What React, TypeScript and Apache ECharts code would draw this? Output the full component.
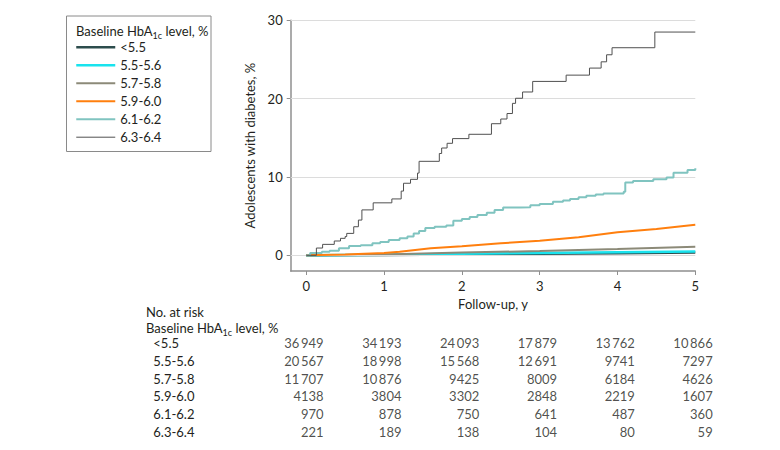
import React, { useEffect, useRef } from 'react';
import * as echarts from 'echarts';

const groups = ['<5.5', '5.5-5.6', '5.7-5.8', '5.9-6.0', '6.1-6.2', '6.3-6.4'];
const groupColors = ['#2d4d4d', '#19e3ee', '#8c8a78', '#ff7f0e', '#80c4c0', '#505050'];
const groupWidths = [2.5, 2.5, 2, 2, 2, 1];
const yearTicks = [0, 1, 2, 3, 4, 5];
const yTicks = [0, 10, 20, 30];
const gridValues = [0, 10, 20, 30];

// cumulative incidence (%): [year, value]
const curveLt55 = [[0, 0], [1, 0.05], [2, 0.12], [3, 0.2], [4, 0.28], [5, 0.35]];
const curve5556 = [[0, 0], [1, 0.08], [2, 0.2], [3, 0.3], [4, 0.4], [5, 0.5]];
const curve5758 = [[0, 0], [1, 0.12], [2, 0.35], [3, 0.55], [4, 0.8], [5, 1.1]];
const curve5960 = [[0, 0], [0.5, 0.12], [1, 0.3], [1.2, 0.45], [1.6, 0.9], [2, 1.15], [2.5, 1.55], [3, 1.85], [3.5, 2.3], [4, 2.95], [4.5, 3.35], [5, 3.9]];
const curve6162 = [[0, 0], [0.05, 0.3], [0.2, 0.45], [0.3, 0.6], [0.42, 0.9], [0.55, 1.19], [0.7, 1.3], [0.85, 1.53], [0.95, 1.7], [1.06, 1.95], [1.2, 2.17], [1.3, 2.4], [1.38, 2.8], [1.45, 3.1], [1.53, 3.5], [1.65, 3.65], [1.8, 3.8], [1.89, 4.4], [2.0, 4.65], [2.1, 4.9], [2.2, 5.15], [2.32, 5.45], [2.42, 5.8], [2.53, 6.1], [2.75, 6.15], [2.88, 6.4], [3.0, 6.55], [3.17, 6.85], [3.3, 7.0], [3.39, 7.2], [3.5, 7.4], [3.6, 7.6], [3.72, 7.75], [3.82, 7.9], [4.08, 8.1], [4.1, 9.3], [4.2, 9.5], [4.46, 9.7], [4.63, 9.95], [4.72, 10.55], [4.9, 10.9], [5.0, 11.1]];
const curve6364 = [[0, 0], [0.13, 0.93], [0.21, 1.4], [0.36, 1.83], [0.44, 2.17], [0.5, 2.4], [0.52, 2.8], [0.61, 3.65], [0.67, 4.5], [0.715, 5.8], [0.86, 6.7], [1.1, 7.2], [1.22, 8.2], [1.25, 9.2], [1.34, 9.7], [1.43, 10.5], [1.45, 12.0], [1.71, 13.0], [1.74, 13.7], [1.81, 14.3], [1.88, 14.9], [2.09, 15.45], [2.38, 16.8], [2.5, 17.4], [2.58, 18.1], [2.65, 19.4], [2.69, 20.05], [2.78, 20.85], [2.91, 22.2], [3.34, 23.0], [3.64, 23.9], [3.79, 24.7], [3.86, 25.6], [3.93, 26.5], [4.48, 28.5], [5.0, 28.5]];

// number at risk
const riskLt55 = [36949, 34193, 24093, 17879, 13762, 10866];
const risk5556 = [20567, 18998, 15568, 12691, 9741, 7297];
const risk5758 = [11707, 10876, 9425, 8009, 6184, 4626];
const risk5960 = [4138, 3804, 3302, 2848, 2219, 1607];
const risk6162 = [970, 878, 750, 641, 487, 360];
const risk6364 = [221, 189, 138, 104, 80, 59];

const curves = [curveLt55, curve5556, curve5758, curve5960, curve6162, curve6364];
const stepped = [false, false, false, false, true, true];
const risks = [riskLt55, risk5556, risk5758, risk5960, risk6162, risk6364];

const FONT = 'Lato, "Open Sans", "Noto Sans", sans-serif';
const TXT = '#231f20';

function fmt(n: number): string {
  const s = String(n);
  if (s.length >= 5) return s.slice(0, s.length - 3) + '\u2009' + s.slice(s.length - 3);
  return s;
}

export default function App() {
  const ref = useRef<HTMLDivElement>(null);
  useEffect(() => {
    document.body.style.margin = '0';
    if (!ref.current) return;
    const chart = echarts.init(ref.current, null, { renderer: 'svg' });

    const lineSeries: any[] = groups.map((g, i) => ({
      name: g,
      type: 'line',
      xAxisIndex: 0,
      yAxisIndex: 0,
      data: curves[i],
      step: stepped[i] ? 'end' : false,
      symbol: 'none',
      z: 2 + i,
      lineStyle: { color: groupColors[i], width: groupWidths[i] },
      itemStyle: { color: groupColors[i] },
    }));

    const tableData: any[] = [];
    risks.forEach((arr, gi) => {
      arr.forEach((n, ti) => tableData.push([yearTicks[ti], gi, n]));
    });

    const option: any = {
      animation: false,
      textStyle: { fontFamily: FONT },
      grid: [
        { left: 290.7, right: 84.7, top: 20.3, bottom: 179 },
        { left: 290.7, right: 84.7, top: 334.5, height: 106 },
      ],
      legend: {
        data: groups.map((g, i) => ({
          name: g,
          lineStyle: { color: groupColors[i], width: groupWidths[i] },
        })),
        orient: 'vertical',
        left: 70,
        top: 35.7,
        padding: 5,
        itemWidth: 39,
        itemHeight: 13,
        itemGap: 5,
        itemStyle: { opacity: 0 },
        textStyle: { fontSize: 13, color: TXT, fontFamily: FONT },
        selectedMode: false,
      },
      xAxis: [
        {
          type: 'value',
          gridIndex: 0,
          min: -0.2,
          max: 5,
          name: 'Follow-up, y',
          nameLocation: 'middle',
          nameGap: 26,
          nameTextStyle: { fontSize: 13, color: TXT, fontFamily: FONT },
          axisLine: { show: true, onZero: false, lineStyle: { color: '#8f8f8f', width: 1.5 } },
          axisTick: { show: true, length: 4, customValues: yearTicks, lineStyle: { color: '#8f8f8f' } },
          axisLabel: { customValues: yearTicks, margin: 8, fontSize: 13, color: TXT, fontFamily: FONT },
          splitLine: { show: false },
        },
        { type: 'value', gridIndex: 1, min: -0.2, max: 5, show: false },
      ],
      yAxis: [
        {
          type: 'value',
          gridIndex: 0,
          min: -2,
          max: 30,
          name: 'Adolescents with diabetes, %',
          nameLocation: 'middle',
          nameGap: 33,
          nameTextStyle: { fontSize: 13, color: TXT, fontFamily: FONT },
          axisLine: { show: true, onZero: false, lineStyle: { color: '#8f8f8f', width: 1.5 } },
          axisTick: { show: true, length: 4, customValues: yTicks, lineStyle: { color: '#8f8f8f' } },
          axisLabel: { customValues: yTicks, margin: 8, fontSize: 13, color: TXT, fontFamily: FONT },
          splitLine: { show: false },
        },
        {
          type: 'category',
          gridIndex: 1,
          data: groups,
          inverse: true,
          axisLine: { show: false },
          axisTick: { show: false },
          axisLabel: { align: 'left', margin: 137.4, fontSize: 13, color: TXT, fontFamily: FONT },
          splitLine: { show: false },
        },
      ],
      series: [
        {
          name: 'gridlines',
          type: 'line',
          xAxisIndex: 0,
          yAxisIndex: 0,
          data: [],
          z: 1,
          silent: true,
          markLine: {
            silent: true,
            symbol: ['none', 'none'],
            label: { show: false },
            lineStyle: { color: '#dcdcdc', width: 1, type: 'solid' },
            data: gridValues.map((v) => ({ yAxis: v })),
          },
        },
        ...lineSeries,
        {
          name: 'atrisk',
          type: 'scatter',
          xAxisIndex: 1,
          yAxisIndex: 1,
          data: tableData,
          symbolSize: 0.1,
          itemStyle: { color: 'transparent' },
          silent: true,
          label: {
            show: true,
            position: 'inside',
            align: 'right',
            verticalAlign: 'middle',
            offset: [17.4, 0],
            fontSize: 13,
            color: TXT,
            fontFamily: FONT,
            formatter: (p: any) => fmt(p.value[2]),
          },
        },
      ],
      graphic: [
        {
          type: 'rect',
          z: -1,
          shape: { x: 66.5, y: 16, width: 144.5, height: 135.5 },
          style: { fill: '#fff', stroke: '#8a8a8a', lineWidth: 1 },
        },
        {
          type: 'text',
          x: 76,
          y: 31,
          style: {
            text: '{a|Baseline HbA}{s|1c}{a| level, %}',
            verticalAlign: 'middle',
            rich: {
              a: { fontSize: 13, fontFamily: FONT, fill: TXT, lineHeight: 18 },
              s: { fontSize: 9, fontFamily: FONT, fill: TXT, lineHeight: 10, verticalAlign: 'bottom' },
            },
          },
        },
        {
          type: 'text',
          x: 146,
          y: 311.7,
          style: { text: 'No. at risk', font: `13px ${FONT}`, fill: TXT, verticalAlign: 'middle' },
        },
        {
          type: 'text',
          x: 146,
          y: 328.3,
          style: {
            text: '{a|Baseline HbA}{s|1c}{a| level, %}',
            verticalAlign: 'middle',
            rich: {
              a: { fontSize: 13, fontFamily: FONT, fill: TXT, lineHeight: 18 },
              s: { fontSize: 9, fontFamily: FONT, fill: TXT, lineHeight: 10, verticalAlign: 'bottom' },
            },
          },
        },
      ],
    };
    chart.setOption(option);
    return () => chart.dispose();
  }, []);
  return <div ref={ref} style={{ width: 780, height: 450 }} />;
}
